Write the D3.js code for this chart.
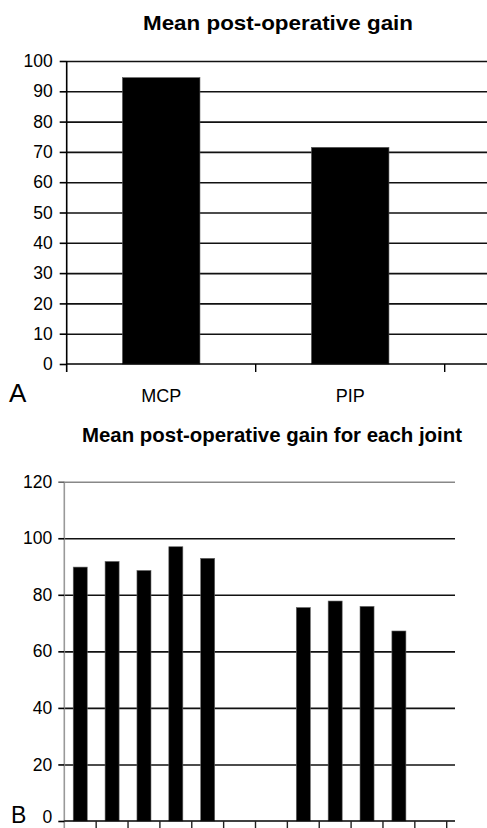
<!DOCTYPE html>
<html>
<head>
<meta charset="utf-8">
<script src="https://cdn.jsdelivr.net/npm/d3@7"></script>
<style>
body{margin:0;background:#fff;}
svg{display:block;font-family:"Liberation Sans",Arial,sans-serif;}
</style>
</head>
<body>
<div id="chart"></div>
<script>
(function(){

// panel A data
const jointsA = ["MCP","PIP"];
const gainA = [94.5,71.5];
const ticksA = [0,10,20,30,40,50,60,70,80,90,100];

// panel B data (one slot per joint, empty slots have no bar)
const jointsB = ["MCP1","MCP2","MCP3","MCP4","MCP5","gap1","gap2","PIP2","PIP3","PIP4","PIP5","gap3"];
const gainB = [89.8,91.8,88.6,97.0,92.9,null,null,75.5,77.8,75.9,67.2,null];
const ticksB = [0,20,40,60,80,100,120];

const width = 487;
const height = 828;

const svg = d3.select("#chart")
.append("svg")
.attr("width",width)
.attr("height",height);

// ---------- panel A ----------
const a = {left:66.7,top:61,bottom:364,band:189};

const xA = d3.scaleBand()
.domain(jointsA)
.range([a.left,a.left+a.band*jointsA.length])
.padding(0);

const yA = d3.scaleLinear()
.domain([0,100])
.range([a.bottom,a.top]);

// gridlines
svg.append("g")
.attr("transform",`translate(${a.left},0)`)
.call(d3.axisRight(yA).tickValues(ticksA.slice(1)).tickSize(width-a.left).tickFormat(""))
.call(g=>g.select(".domain").remove())
.call(g=>g.selectAll("line").attr("stroke","#111").attr("stroke-width",1.6));

// bars
svg.append("g")
.selectAll("rect")
.data(jointsA.map((d,i)=>({k:d,v:gainA[i]})))
.join("rect")
.attr("x",d=>xA(d.k)+xA.bandwidth()*0.295)
.attr("y",d=>yA(d.v))
.attr("width",xA.bandwidth()*0.41)
.attr("height",d=>a.bottom-yA(d.v))
.attr("fill","#000")
.attr("stroke","#555")
.attr("stroke-width",0.6);

// y axis
svg.append("g")
.attr("transform",`translate(${a.left},0)`)
.call(d3.axisLeft(yA).tickValues(ticksA).tickSize(7).tickPadding(7))
.call(g=>g.select(".domain").attr("d",`M0,${a.top}V${a.bottom+8}`).attr("stroke","#000").attr("stroke-width",1.6))
.call(g=>g.selectAll("line").attr("stroke","#000").attr("stroke-width",1.6))
.call(g=>g.selectAll("text").attr("fill","#000").attr("font-size","17.5px").attr("font-family","Liberation Sans, Arial, sans-serif"));

// x axis line and boundary ticks
svg.append("line")
.attr("x1",a.left).attr("x2",width)
.attr("y1",a.bottom).attr("y2",a.bottom)
.attr("stroke","#000").attr("stroke-width",1.6);

svg.append("g")
.selectAll("line")
.data(jointsA.map(d=>xA(d)+xA.bandwidth()))
.join("line")
.attr("x1",d=>d).attr("x2",d=>d)
.attr("y1",a.bottom).attr("y2",a.bottom+8)
.attr("stroke","#000").attr("stroke-width",1.4);

// category labels
svg.append("g")
.attr("transform",`translate(0,${a.bottom})`)
.call(d3.axisBottom(xA).tickSize(0))
.call(g=>g.select(".domain").remove())
.call(g=>g.selectAll("text").attr("y",38).attr("dy",0).attr("fill","#000")
.attr("font-size","18px").attr("font-family","Liberation Sans, Arial, sans-serif"));

// title A
svg.append("text")
.attr("x",278)
.attr("y",30)
.attr("text-anchor","middle")
.attr("font-size","21px")
.attr("font-weight","bold")
.attr("textLength",270)
.attr("lengthAdjust","spacingAndGlyphs")
.text("Mean post-operative gain");

svg.append("text")
.attr("x",9)
.attr("y",402)
.attr("font-size","26px")
.text("A");

// ---------- panel B ----------
const b = {left:64.3,right:446.7,top:481.7,bottom:821,gridEnd:455};

const xB = d3.scaleBand()
.domain(jointsB)
.range([b.left,b.right])
.padding(0);

const yB = d3.scaleLinear()
.domain([0,120])
.range([b.bottom,b.top]);

// gridlines
svg.append("g")
.attr("transform",`translate(${b.left},0)`)
.call(d3.axisRight(yB).tickValues(ticksB.slice(1)).tickSize(b.gridEnd-b.left).tickFormat(""))
.call(g=>g.select(".domain").remove())
.call(g=>g.selectAll("line")
.attr("stroke",d=>d===120?"#888":"#111")
.attr("stroke-width",1.6));

// bars
svg.append("g")
.selectAll("rect")
.data(jointsB.map((d,i)=>({k:d,v:gainB[i]})).filter(d=>d.v!==null))
.join("rect")
.attr("x",d=>xB(d.k)+xB.bandwidth()*0.28)
.attr("y",d=>yB(d.v))
.attr("width",xB.bandwidth()*0.44)
.attr("height",d=>b.bottom-yB(d.v))
.attr("fill","#000")
.attr("stroke","#666")
.attr("stroke-width",0.6);

// y axis
svg.append("g")
.attr("transform",`translate(${b.left},0)`)
.call(d3.axisLeft(yB).tickValues(ticksB).tickSize(6).tickPadding(6))
.call(g=>g.select(".domain").attr("d",`M0,${b.top}V${b.bottom+8}`).attr("stroke","#999").attr("stroke-width",1.6))
.call(g=>g.selectAll("line").attr("stroke",d=>d===120?"#666":"#000").attr("stroke-width",1.6))
.call(g=>g.selectAll("text").attr("fill","#000").attr("font-size","17.5px").attr("font-family","Liberation Sans, Arial, sans-serif")
.attr("dy",d=>d===0?"0.1em":"0.32em"));

// x axis line and boundary ticks
svg.append("line")
.attr("x1",b.left).attr("x2",b.gridEnd)
.attr("y1",b.bottom).attr("y2",b.bottom)
.attr("stroke","#000").attr("stroke-width",1.6);

svg.append("g")
.selectAll("line")
.data(jointsB.map(d=>xB(d)+xB.bandwidth()))
.join("line")
.attr("x1",d=>d).attr("x2",d=>d)
.attr("y1",b.bottom).attr("y2",b.bottom+8)
.attr("stroke","#222").attr("stroke-width",1.4);

// title B
svg.append("text")
.attr("x",272)
.attr("y",442)
.attr("text-anchor","middle")
.attr("font-size","21px")
.attr("font-weight","bold")
.attr("textLength",380)
.attr("lengthAdjust","spacingAndGlyphs")
.text("Mean post-operative gain for each joint");

svg.append("text")
.attr("x",11)
.attr("y",823)
.attr("font-size","23px")
.text("B");

})();
</script>
</body>
</html>
